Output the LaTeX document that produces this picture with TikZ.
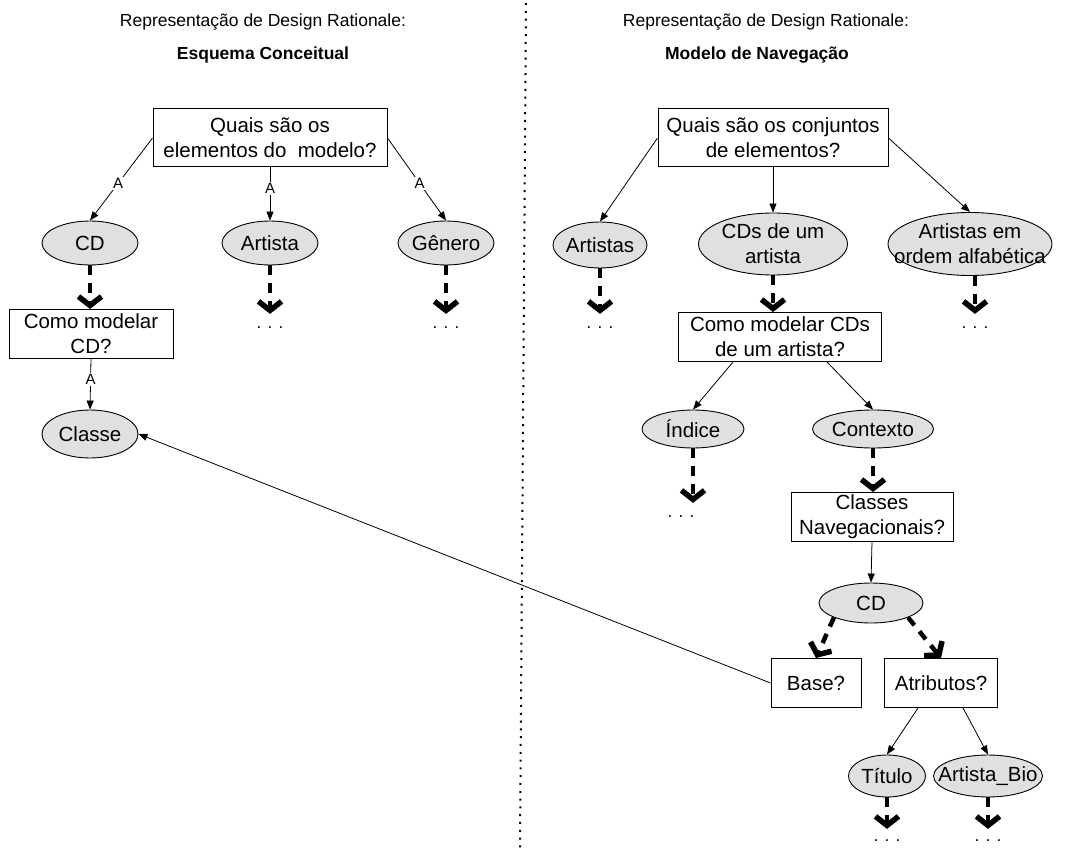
\documentclass[tikz,border=0pt]{standalone}
\usepackage{fontspec}
\setmainfont{Liberation Sans}
\usetikzlibrary{shapes.geometric,arrows.meta}
\definecolor{ellfill}{HTML}{E0E0E0}
\tikzset{
  nfont/.style={font=\fontsize{20.5}{25}\selectfont},
  title/.style={font=\fontsize{17.5}{20}\selectfont},
  box/.style={draw,rectangle,line width=1pt,nfont,align=center,inner sep=1pt},
  ell/.style={draw,ellipse,line width=0.9pt,fill=ellfill,inner sep=0pt,
    label={[nfont,align=center]center:#1}},
  arr/.style={line width=0.8pt,-{Triangle[length=9pt,width=7pt]}},
  flow/.style={line width=4.5pt,dash pattern=on 10pt off 8pt,
    -{Straight Barb[length=9pt,width=23pt,line width=5.5pt]}},
  lbl/.style={fill=white,font=\fontsize{15}{17}\selectfont,inner sep=1.5pt},
  more/.style={font=\fontsize{17}{20}\selectfont,inner sep=0pt}
}
\begin{document}
\begin{tikzpicture}[x=1pt,y=-1pt]
    \useasboundingbox (0,0) rectangle (1069,848);
    % titulos
    \node[title] (tl) at (263,22) {Representação de Design Rationale:};
    \node[title,font=\fontsize{17.5}{20}\selectfont\bfseries] (tlb) at (263,55) {Esquema Conceitual};
    \node[title] (tr) at (766,22) {Representação de Design Rationale:};
    \node[title,font=\fontsize{17.5}{20}\selectfont\bfseries] (trb) at (757,55) {Modelo de Navegação};
    \draw[line width=2pt,dash pattern=on 2pt off 5.8pt] (526,3) -- (520,848);
    % esquema conceitual
    \node[box,minimum width=234,minimum height=58] (q1) at (270,138) {Quais são os\\elementos do~~modelo?};
    \node[ell={CD},minimum width=96,minimum height=44] (cd) at (90,243) {};
    \node[ell={Artista},minimum width=96,minimum height=44] (art) at (270,243) {};
    \node[ell={Gênero},minimum width=96,minimum height=44] (gen) at (446,243) {};
    \node[box,minimum width=164,minimum height=49] (mcd) at (91,334) {Como modelar\\CD?};
    \node[ell={Classe},minimum width=96,minimum height=48] (cls) at (90,434) {};
    \node[more] (d1) at (270,328) {. . .};
    \node[more] (d2) at (446,328) {. . .};
    \draw[arr] (q1.west) -- node[lbl,pos=.55] {A} (cd.north);
    \draw[arr] (q1.south) -- node[lbl,pos=.4] {A} (art.north);
    \draw[arr] (q1.east) -- node[lbl,pos=.55] {A} (gen.north);
    \draw[flow] (cd.south) -- (cd.south |- mcd.north);
    \draw[flow,shorten >=13pt] (art.south) -- (d1.north);
    \draw[flow,shorten >=13pt] (gen.south) -- (d2.north);
    \draw[arr] (mcd.south) -- node[lbl,pos=.4] {A} (cls.north);
    % modelo de navegacao
    \node[box,minimum width=230,minimum height=58] (q2) at (773,138) {Quais são os conjuntos\\de elementos?};
    \node[ell={Artistas},minimum width=94,minimum height=46] (arts) at (600,245) {};
    \node[ell={CDs de um\\artista},minimum width=149,minimum height=62] (cds) at (773,244) {};
    \node[ell={Artistas em\\ordem alfabética},minimum width=164,minimum height=63] (alf) at (970,244) {};
    \node[more] (d3) at (600,328) {. . .};
    \node[more] (d4) at (975,328) {. . .};
    \node[box,minimum width=203,minimum height=49] (q3) at (780,337) {Como modelar CDs\\de um artista?};
    \node[ell={Índice},minimum width=102,minimum height=38] (idx) at (693,429) {};
    \node[ell={Contexto},minimum width=121,minimum height=38] (ctx) at (873,429) {};
    \node[more] (d5) at (681,517) {. . .};
    \node[box,minimum width=162,minimum height=49] (nav) at (872,517) {Classes\\Navegacionais?};
    \node[ell={CD},minimum width=104,minimum height=40] (cd2) at (871,603) {};
    \node[box,minimum width=90,minimum height=49] (base) at (816,683) {Base?};
    \node[box,minimum width=113,minimum height=49] (atr) at (941,683) {Atributos?};
    \node[ell={Título},minimum width=77,minimum height=42] (tit) at (887,776) {};
    \node[ell={Artista\_Bio},minimum width=109,minimum height=42] (bio) at (988,776) {};
    \node[more] (d6) at (887,841) {. . .};
    \node[more] (d7) at (988,841) {. . .};
    \draw[arr] (q2.west) -- (arts.north);
    \draw[arr] (q2.south) -- (cds.north);
    \draw[arr] (q2.east) -- (alf.north);
    \draw[flow,shorten >=13pt] (arts.south) -- (d3.north);
    \draw[flow] (cds.south) -- (cds.south |- q3.north);
    \draw[flow,shorten >=13pt] (d4.north |- alf.south) -- (d4.north);
    \draw[arr] ([xshift=-47pt]q3.south) -- (idx.north);
    \draw[arr] ([xshift=47pt]q3.south) -- (ctx.north);
    \draw[flow,shorten >=13pt] (idx.south) -- (idx.south |- d5.north);
    \draw[flow] (ctx.south) -- (ctx.south |- nav.north);
    \draw[arr] (nav.south) -- (cd2.north);
    \draw[flow] (cd2.south west) -- (base.north);
    \draw[flow] (cd2.south east) -- (atr.north);
    \draw[arr] ([xshift=-23pt]atr.south) -- (tit.north);
    \draw[arr] ([xshift=22pt]atr.south) -- (bio.north);
    \draw[flow,shorten >=11pt] (tit.south) -- (d6.north);
    \draw[flow,shorten >=11pt] (bio.south) -- (d7.north);
    \draw[arr] (base.west) -- (cls.east);
\end{tikzpicture}
\end{document}
